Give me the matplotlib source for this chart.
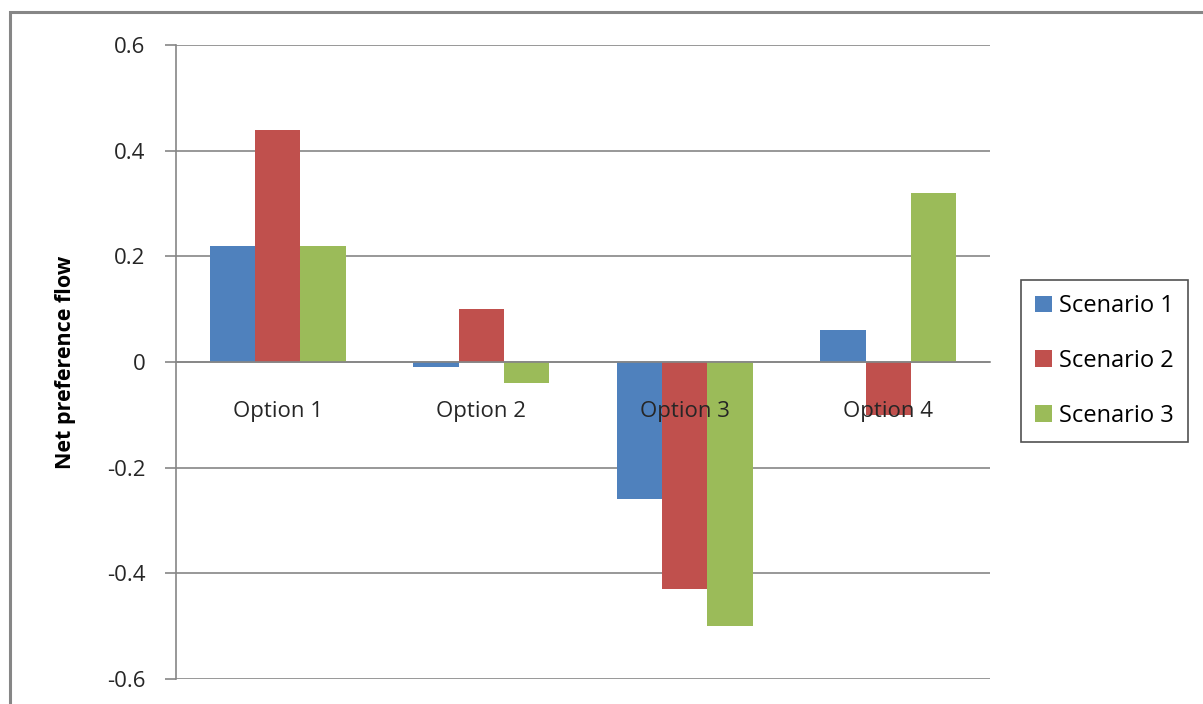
import numpy as np
import matplotlib.pyplot as plt
from matplotlib.patches import Rectangle

options = ['Option 1', 'Option 2', 'Option 3', 'Option 4']
scenario_1 = [0.22, -0.01, -0.26, 0.06]
scenario_2 = [0.44, 0.10, -0.43, -0.10]
scenario_3 = [0.22, -0.04, -0.50, 0.32]
series_names = ['Scenario 1', 'Scenario 2', 'Scenario 3']
colors = ['#4F81BD', '#C0504D', '#9BBB59']
yticks = [-0.6, -0.4, -0.2, 0, 0.2, 0.4, 0.6]
ytick_labels = ['-0.6', '-0.4', '-0.2', '0', '0.2', '0.4', '0.6']

plt.rcParams['font.family'] = ['Open Sans', 'DejaVu Sans']

fig = plt.figure(figsize=(12.03, 7.04), dpi=100)
W, H = 1203, 704
ax = fig.add_axes([176 / W, 1 - 679 / H, (990 - 176) / W, (679 - 45) / H])

# chart border (only left and top are visible in the crop)
fig.patches.append(Rectangle((10 / W, -0.1), 1.2, 1 - 12 / H + 0.1,
                             transform=fig.transFigure, fill=False,
                             edgecolor='#868686', linewidth=2.2))

x = np.arange(len(options))
width = 1 / 4.5
for i, (vals, name) in enumerate(zip([scenario_1, scenario_2, scenario_3], series_names)):
    ax.bar(x + (i - 1) * width, vals, width, color=colors[i], label=name, zorder=1)

for y in yticks:
    ax.axhline(y, color='#868686', linewidth=1.2, zorder=0)

ax.set_xlim(-0.5, 3.5)
ax.set_ylim(-0.6, 0.6)
ax.set_yticks(yticks)
ax.set_yticklabels(ytick_labels)
ax.set_xticks(x)
ax.set_xticklabels(options)

ax.spines['bottom'].set_position(('data', 0))
ax.spines['bottom'].set_color('#868686')
ax.spines['bottom'].set_linewidth(1.2)
ax.spines['left'].set_color('#868686')
ax.spines['left'].set_linewidth(1.2)
ax.spines['top'].set_visible(False)
ax.spines['right'].set_visible(False)

ax.tick_params(axis='x', length=0, pad=28, labelsize=16, labelcolor='#262626')
ax.tick_params(axis='y', length=8, width=1.2, color='#868686', pad=14,
               labelsize=16, labelcolor='#262626')

ax.set_ylabel('Net preference flow', fontsize=15.5, fontweight='bold', labelpad=22)

leg = ax.legend(loc='center left', bbox_to_anchor=(1021 / W, 1 - 361 / H),
                bbox_transform=fig.transFigure, fontsize=17, frameon=True,
                fancybox=False, edgecolor='#262626', handlelength=0.7,
                handleheight=0.7, handletextpad=0.3, labelspacing=1.3,
                borderpad=0.6, borderaxespad=0)
leg.get_frame().set_linewidth(1.2)

fig.savefig('out.png', dpi=100)
